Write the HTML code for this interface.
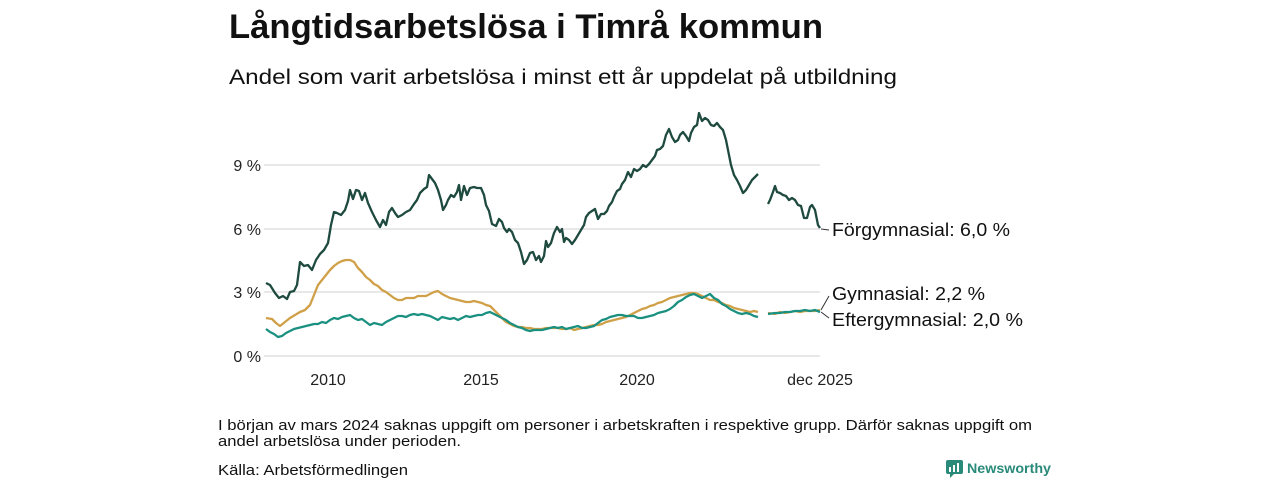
<!DOCTYPE html>
<html><head><meta charset="utf-8"><style>
body{margin:0;width:1280px;height:480px;background:#fff;font-family:"Liberation Sans",sans-serif;color:#111;overflow:hidden}
</style></head><body>
<svg width="1280" height="480" xmlns="http://www.w3.org/2000/svg" font-family="Liberation Sans, DejaVu Sans, sans-serif">
<text x="229" y="38" font-size="34" font-weight="bold" fill="#111" textLength="594" lengthAdjust="spacingAndGlyphs">Långtidsarbetslösa i Timrå kommun</text>
<text x="229" y="84" font-size="21" fill="#111" textLength="668" lengthAdjust="spacingAndGlyphs">Andel som varit arbetslösa i minst ett år uppdelat på utbildning</text>
<g stroke="#e0e0e0" stroke-width="1.5">
<line x1="264" x2="820" y1="165" y2="165"/><line x1="264" x2="820" y1="229" y2="229"/>
<line x1="264" x2="820" y1="292" y2="292"/><line x1="264" x2="820" y1="356" y2="356"/>
</g>
<g font-size="16" fill="#222">
<text x="261" y="171" text-anchor="end">9 %</text><text x="261" y="235" text-anchor="end">6 %</text>
<text x="261" y="298" text-anchor="end">3 %</text><text x="261" y="362" text-anchor="end">0 %</text>
<text x="328" y="385" text-anchor="middle">2010</text><text x="481" y="385" text-anchor="middle">2015</text>
<text x="637" y="385" text-anchor="middle">2020</text><text x="820" y="385" text-anchor="middle">dec 2025</text>
</g>
<g fill="none" stroke-width="2.3" stroke-linejoin="round">
<polyline stroke="#d0a048" points="266,318 272,319 276,323 280,326 285,322 290,318 295,315 300,312 305,310 310,305 314,295 318,285 322,280 326,275 330,270 334,266 338,263 342,261 346,260 350,260 354,262 358,268 362,272 366,277 370,280 374,284 378,286 382,290 386,292 390,295 394,298 398,300 402,300 406,298 410,298 414,298 418,296 422,296 426,296 430,294 434,292 438,291 442,294 446,296 450,298 454,299 458,300 462,301 466,302 470,302 474,301 478,302 482,303 486,305 490,306 494,310 498,314 502,318 506,322 510,324 514,326 518,327 522,327 526,328 530,328 534,329 538,329 542,329 546,328 550,328 554,328 558,328 562,329 566,329 570,328 574,330 578,329 582,328 586,327 590,326 594,325 598,325 602,324 606,322 610,321 614,320 618,319 622,318 626,317 630,315 634,313 638,311 642,309 646,308 650,306 654,305 658,303 662,302 666,300 670,298 674,297 678,296 682,295 686,294 690,293 694,293 698,294 702,296 706,298 710,300 714,300 718,302 722,303 726,305 730,306 734,308 738,309 742,310 746,311 750,312 754,311 758,312"/>
<polyline stroke="#d0a048" points="768,313 775,314 780,312 785,313 790,312 795,311 800,312 805,311 810,311 815,311 820,310"/>
<polyline stroke="#1a9080" points="266,329 270,332 274,334 278,337 282,336 286,333 290,331 294,329 298,328 302,327 306,326 310,325 314,324 318,324 322,322 326,323 330,320 334,318 338,319 342,317 346,316 350,315 354,318 358,320 362,319 366,322 370,325 374,323 378,324 382,325 386,322 390,320 394,318 398,316 402,316 406,317 410,315 414,314 418,315 422,314 426,315 430,316 434,318 438,320 442,317 446,318 450,319 454,318 458,320 462,318 466,316 470,317 474,316 478,315 482,315 486,313 490,312 494,314 498,316 502,318 506,320 510,323 514,325 518,327 522,328 526,330 530,331 534,330 538,330 542,330 546,329 550,328 554,327 558,328 562,327 566,329 570,328 574,327 578,326 582,328 586,328 590,327 594,326 598,323 602,320 606,319 610,317 614,316 618,315 622,315 626,316 630,316 634,316 638,318 642,318 646,317 650,316 654,315 658,313 662,312 666,311 670,309 674,306 678,302 682,300 686,297 690,295 694,294 698,296 702,298 706,296 710,294 714,298 718,300 722,304 726,306 730,309 734,311 738,313 742,314 746,313 750,314 754,316 758,317"/>
<polyline stroke="#1a9080" points="768,314 775,313 780,313 785,312 790,312 795,311 800,311 805,310 810,311 815,310 820,312"/>
<polyline stroke="#1f4a3f" points="266,283 270,285 275,293 279,298 283,296 287,299 290,292 294,291 297,285 300,262 304,266 308,265 312,270 316,260 320,254 324,250 328,243 331,225 334,212 337,213 341,215 345,210 348,201 350,190 353,199 356,190 359,191 362,200 365,193 368,203 372,212 376,220 380,227 383,220 386,225 389,212 392,208 395,213 398,217 402,215 406,212 410,210 414,204 417,200 420,193 424,189 427,187 429,175 432,179 435,183 438,190 441,200 443,210 446,205 448,200 451,195 454,197 457,192 459,185 461,200 464,186 467,195 470,188 474,187 477,188 481,188 484,195 486,205 489,211 492,224 496,226 499,219 502,222 504,228 507,232 509,229 512,232 515,240 518,243 521,252 524,264 527,260 530,253 533,252 536,260 539,256 541,262 544,256 546,241 548,247 551,243 554,233 557,227 560,232 562,229 564,242 566,238 569,240 572,244 575,240 578,235 581,230 584,225 586,217 589,213 592,211 595,209 598,219 601,214 604,214 607,211 609,206 612,202 614,197 617,191 620,189 622,184 625,180 628,172 631,177 634,169 637,171 640,169 643,165 646,167 649,164 652,160 655,156 657,150 660,149 663,146 666,135 669,129 672,137 675,142 678,140 680,135 683,132 686,136 689,141 691,133 694,127 697,125 699,113 702,121 705,118 708,120 711,125 714,126 717,123 720,127 723,130 726,140 729,155 731,165 734,175 737,180 740,186 743,193 746,190 749,185 752,180 755,177 758,174"/>
<polyline stroke="#1f4a3f" points="768,204 770,200 773,192 775,186 777,192 780,193 783,195 786,196 789,200 792,198 795,200 798,205 801,206 804,218 807,218 810,207 812,205 815,210 818,225 820,228"/>
</g>
<g stroke="#333" stroke-width="1" fill="none">
<line x1="821" y1="229" x2="829" y2="230"/>
<line x1="821" y1="310" x2="829" y2="296"/>
<line x1="821" y1="312" x2="829" y2="318"/>
</g>
<g font-size="18" fill="#111">
<text x="832" y="236" textLength="178" lengthAdjust="spacingAndGlyphs">Förgymnasial: 6,0 %</text>
<text x="832" y="300" textLength="153" lengthAdjust="spacingAndGlyphs">Gymnasial: 2,2 %</text>
<text x="832" y="326" textLength="191" lengthAdjust="spacingAndGlyphs">Eftergymnasial: 2,0 %</text>
</g>
<g font-size="15" fill="#111">
<text x="218" y="430" textLength="814" lengthAdjust="spacingAndGlyphs">I början av mars 2024 saknas uppgift om personer i arbetskraften i respektive grupp. Därför saknas uppgift om</text>
<text x="218" y="446" textLength="243" lengthAdjust="spacingAndGlyphs">andel arbetslösa under perioden.</text>
<text x="218" y="475" textLength="190" lengthAdjust="spacingAndGlyphs">Källa: Arbetsförmedlingen</text>
</g>
<rect x="946" y="460" width="17" height="14" rx="2" fill="#2a8a7a"/>
<polygon points="950,474 954,474 950,478" fill="#2a8a7a"/>
<g fill="#fff"><rect x="949" y="467" width="2" height="5"/><rect x="953" y="465" width="2" height="7"/><rect x="957" y="463" width="2" height="9"/></g>
<text x="967" y="473" font-size="14" font-weight="bold" fill="#2a8a7a" textLength="84" lengthAdjust="spacingAndGlyphs">Newsworthy</text>
</svg>
</body></html>
